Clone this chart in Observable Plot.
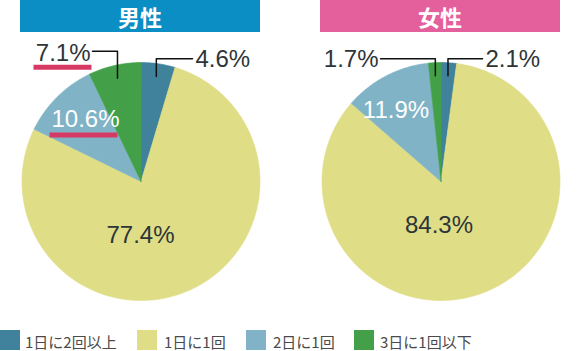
<!DOCTYPE html>
<html><head><meta charset="utf-8">
<script src="https://cdn.jsdelivr.net/npm/d3@7"></script>
<script src="https://cdn.jsdelivr.net/npm/@observablehq/plot@0.6"></script>
<style>
body{margin:0;background:#fff;}
#wrap{position:relative;width:580px;height:351px;overflow:hidden;font-family:"Noto Sans CJK JP","Noto Sans",sans-serif;}
.hdr{position:absolute;top:0;height:32px;width:240px;color:#fff;font-weight:bold;font-size:22px;line-height:32px;text-align:center;}
#chart{position:absolute;left:0;top:0;}
.sw{position:absolute;top:330px;width:20px;height:20px;}
.lt{position:absolute;top:332px;height:20px;line-height:20px;font-size:15px;color:#4a4a4a;white-space:nowrap;}
</style></head>
<body><div id="wrap"></div>
<script>
// ---- data ----
const categories = ["1日に2回以上", "1日に1回", "2日に1回", "3日に1回以下"];
const groups = ["男性", "女性"];
const maleValues = [4.6, 77.4, 10.6, 7.1];
const femaleValues = [2.1, 84.3, 11.9, 1.7];

// ---- styles / layout ----
const seriesColors = ["#40819b", "#dfdd85", "#80b3c6", "#43a048"];
const headerColors = {"男性": "#0b8ec3", "女性": "#e4609c"};
const R = 119;
const layout = {
  "男性": {cx: 140.5, cy: 181, hx: 20, labels: [
    {kind: "outer", side: "right", tx: 195, ty: 59.3, ly: 58.3, lx: 192},
    {kind: "inner", tx: 140, ty: 235.3, fill: "#2e3538"},
    {kind: "inner", tx: 85, ty: 119.3, fill: "#ffffff"},
    {kind: "outer", side: "left", tx: 90, ty: 53.3, ly: 50.7, lx: 92}
  ]},
  "女性": {cx: 440.5, cy: 181, hx: 320, labels: [
    {kind: "outer", side: "right", tx: 485, ty: 59.3, ly: 58.3, lx: 482},
    {kind: "inner", tx: 438.5, ty: 225.3, fill: "#2e3538"},
    {kind: "inner", tx: 395.5, ty: 110.3, fill: "#ffffff"},
    {kind: "outer", side: "left", tx: 378, ty: 59.3, ly: 58.3, lx: 380}
  ]}
};
const underlines = [
  {group: "男性", idx: 3, x1: 33, x2: 91, y: 66.8},
  {group: "男性", idx: 2, x1: 49, x2: 117, y: 134.6}
];

const valuesByGroup = {"男性": maleValues, "女性": femaleValues};
const slicePts = [], leaderPts = [], textRows = [];
for (const g of groups) {
  const L = layout[g];
  const rows = categories.map((c, i) => ({category: c, value: valuesByGroup[g][i], i}));
  const arcs = d3.pie().sort(null).value(d => d.value)(rows);
  for (const a of arcs) {
    const key = g + a.data.i;
    slicePts.push({key, category: a.data.category, x: L.cx, y: L.cy});
    const n = Math.max(2, Math.ceil((a.endAngle - a.startAngle) / (Math.PI / 180)));
    for (let k = 0; k <= n; k++) {
      const t = a.startAngle + (a.endAngle - a.startAngle) * k / n;
      slicePts.push({key, category: a.data.category, x: L.cx + R * Math.sin(t), y: L.cy - R * Math.cos(t)});
    }
    const lab = L.labels[a.data.i];
    const text = a.data.value.toFixed(1) + "%";
    if (lab.kind === "outer") {
      const m = (a.startAngle + a.endAngle) / 2;
      const ax = L.cx + 106 * Math.sin(m), ay = L.cy - 106 * Math.cos(m);
      leaderPts.push({key, x: ax, y: ay}, {key, x: ax, y: lab.ly}, {key, x: lab.lx, y: lab.ly});
      textRows.push({text, x: lab.tx, y: lab.ty, anchor: lab.side === "right" ? "start" : "end", fill: "#2e3538"});
    } else {
      textRows.push({text, x: lab.tx, y: lab.ty, anchor: "middle", fill: lab.fill});
    }
  }
}

const textMark = (anchor, fill) => Plot.text(textRows.filter(d => d.anchor === anchor && d.fill === fill), {
  x: "x", y: "y", text: "text", textAnchor: anchor, fill, fontSize: 24,
  fontFamily: "'Liberation Sans', Arial, sans-serif"
});

const chart = Plot.plot({
  width: 580, height: 322, margin: 0,
  x: {domain: [0, 580], range: [0, 580], axis: null},
  y: {domain: [0, 322], range: [0, 322], axis: null},
  color: {domain: categories, range: seriesColors},
  marks: [
    Plot.line(slicePts, {x: "x", y: "y", z: "key", fill: "category", stroke: "category", strokeWidth: 0.6, curve: "linear-closed"}),
    Plot.line(leaderPts, {x: "x", y: "y", z: "key", stroke: "#111", strokeWidth: 1.5}),
    Plot.link(underlines, {x1: "x1", x2: "x2", y1: "y", y2: "y", stroke: "#d63a64", strokeWidth: 5}),
    textMark("start", "#2e3538"), textMark("end", "#2e3538"),
    textMark("middle", "#2e3538"), textMark("middle", "#ffffff")
  ]
});
chart.id = "chart";
const wrap = document.getElementById("wrap");
wrap.appendChild(chart);

for (const g of groups) {
  const h = document.createElement("div");
  h.className = "hdr";
  h.textContent = g;
  h.style.left = layout[g].hx + "px";
  h.style.background = headerColors[g];
  wrap.appendChild(h);
}
const legendSwatchX = [0, 137, 246, 354];
const legendTextX = [25, 164, 273, 380];
categories.forEach((c, i) => {
  const s = document.createElement("div");
  s.className = "sw"; s.style.left = legendSwatchX[i] + "px"; s.style.background = seriesColors[i];
  wrap.appendChild(s);
  const t = document.createElement("div");
  t.className = "lt"; t.style.left = legendTextX[i] + "px"; t.textContent = c;
  wrap.appendChild(t);
});
</script></body></html>
